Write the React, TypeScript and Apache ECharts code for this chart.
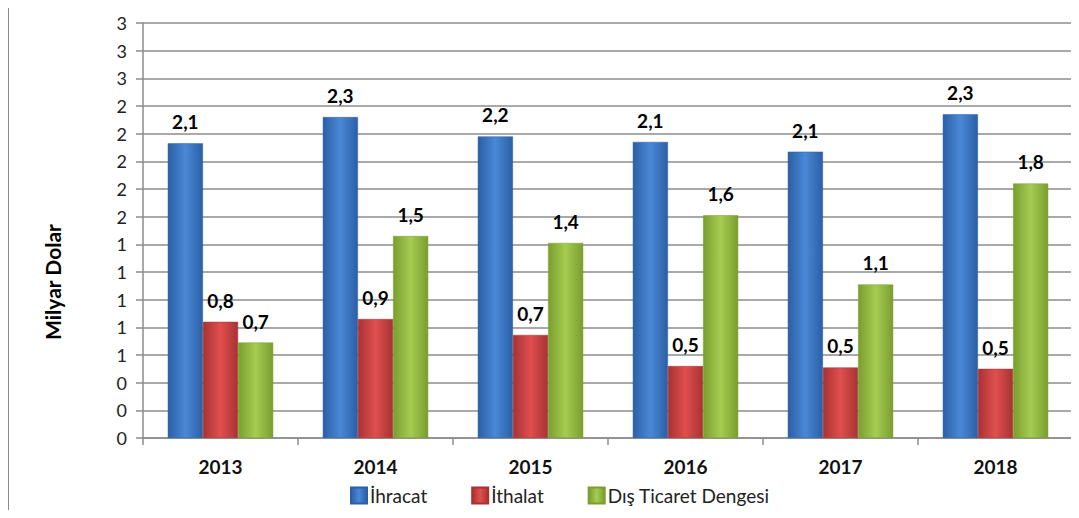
import React, { useEffect, useRef } from "react";
import * as echarts from "echarts";

const categories = ["2013", "2014", "2015", "2016", "2017", "2018"];
const ihracat = [2.13, 2.32, 2.18, 2.14, 2.07, 2.34];
const ithalat = [0.84, 0.86, 0.745, 0.52, 0.51, 0.5];
const disTicaret = [0.69, 1.46, 1.41, 1.61, 1.11, 1.84];
const seriesNames = ["İhracat", "İthalat", "Dış Ticaret Dengesi"];
const yTicks = { min: 0, max: 3, interval: 0.2 };

const FONT = "Lato, 'Open Sans', sans-serif";

function grad(edge: string, mid: string) {
  return new echarts.graphic.LinearGradient(0, 0, 1, 0, [
    { offset: 0, color: edge },
    { offset: 0.5, color: mid },
    { offset: 1, color: edge },
  ]);
}

export default function App() {
  const ref = useRef<HTMLDivElement>(null);
  useEffect(() => {
    if (!ref.current) return;
    const chart = echarts.init(ref.current, null, { renderer: "svg" });
    const label = {
      show: true,
      position: "top" as const,
      distance: 12,
      fontFamily: FONT,
      fontWeight: "bold" as const,
      fontSize: 19,
      color: "#000",
      formatter: (p: any) => Number(p.value).toFixed(1).replace(".", ","),
    };
    const colors = [
      { edge: "#2b5fa6", mid: "#4a88d6", legend: "#3a73c4" },
      { edge: "#a83232", mid: "#e04f4f", legend: "#c84040" },
      { edge: "#7a9e2e", mid: "#a6cc52", legend: "#92b844" },
    ];
    const datas = [ihracat, ithalat, disTicaret];
    chart.setOption({
      animation: false,
      backgroundColor: "#fff",
      grid: { left: 143, right: 6, top: 23, bottom: 80, containLabel: false },
      legend: {
        data: seriesNames,
        top: 481,
        left: 345,
        itemWidth: 16,
        itemHeight: 16,
        itemGap: 44,
        icon: "rect",
        textStyle: { fontFamily: FONT, fontSize: 19, color: "#222", padding: [0, 0, 0, -2] },
      },
      xAxis: {
        type: "category",
        data: categories,
        axisLine: { lineStyle: { color: "#8c8c8c", width: 1.5 } },
        axisTick: { show: true, length: 7, lineStyle: { color: "#8c8c8c", width: 1.5 } },
        axisLabel: {
          fontFamily: FONT,
          fontWeight: "bold",
          fontSize: 19,
          color: "#111",
          margin: 19,
        },
      },
      yAxis: {
        type: "value",
        min: yTicks.min,
        max: yTicks.max,
        interval: yTicks.interval,
        axisLine: { show: true, lineStyle: { color: "#8c8c8c", width: 1.5 } },
        axisTick: { show: true, length: 7, lineStyle: { color: "#8c8c8c", width: 1.5 } },
        splitLine: { show: true, lineStyle: { color: "#8c8c8c", width: 1.5 } },
        axisLabel: {
          fontFamily: FONT,
          fontSize: 18,
          color: "#222",
          margin: 16,
          formatter: (v: number) => String(Math.round(v)),
        },
      },
      graphic: [
        {
          type: "line",
          shape: { x1: 8, y1: 6, x2: 8, y2: 518 },
          style: { stroke: "#8c8c8c", lineWidth: 2 },
          silent: true,
        },
        {
          type: "line",
          shape: { x1: 7, y1: 6, x2: 1079, y2: 6 },
          style: { stroke: "#8c8c8c", lineWidth: 2 },
          silent: true,
        },
        {
          type: "text",
          x: 52,
          y: 282,
          rotation: Math.PI / 2,
          style: {
            text: "Milyar Dolar",
            fontFamily: FONT,
            fontWeight: "bold",
            fontSize: 21,
            fill: "#000",
            align: "center",
            verticalAlign: "middle",
          },
        },
      ],
      series: seriesNames.map((name, i) => ({
        name,
        type: "bar",
        data: datas[i],
        barGap: "0%",
        barCategoryGap: "32%",
        label,
        itemStyle: {
          color: grad(colors[i].edge, colors[i].mid),
          borderColor: colors[i].edge,
          borderWidth: 0.5,
        },
      })),
      color: colors.map((c) => c.legend),
    });
    return () => chart.dispose();
  }, []);
  return <div ref={ref} style={{ width: 1079, height: 518, margin: -8 }} />;
}
